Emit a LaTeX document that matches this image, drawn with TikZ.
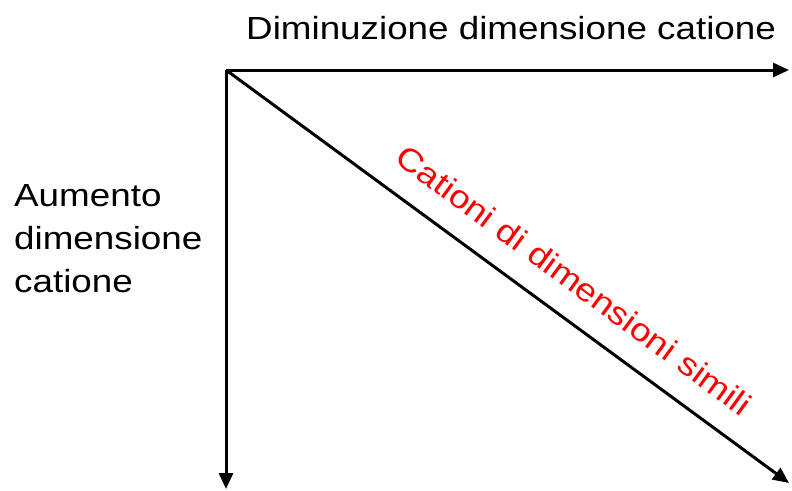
\documentclass[tikz,border=0pt]{standalone}
\usepackage{fontspec}
\setmainfont{Liberation Sans}[FakeStretch = 1.15]
\usetikzlibrary{positioning, arrows.meta}
\tikzset{
  > = {Triangle[length = 16pt, width = 14pt]},
  axis/.style = {->, line width = 3pt},
  label/.style = {inner sep = 0pt, align = left,
    font = \fontsize{32}{43}\selectfont},
  trend/.style = {label, text = red}
}

\begin{document}
\begin{tikzpicture}[x = 1pt, y = -1pt]

\useasboundingbox (0,0) rectangle (792,490);

\coordinate (o) at (226,70);
\coordinate (xend) at (789,70);
\coordinate (yend) at (226,489);
\coordinate (dend) at (789,483);

\node [label, anchor = base west] (xlab) at (246,39) {Diminuzione dimensione catione};
\node [label, anchor = west] (ylab) at (14,239) {Aumento\\dimensione\\catione};

\draw [axis] (o) -- (xend);
\draw [axis] (o) -- (yend);
\draw [axis] (o) -- node [trend, pos = 0.58, sloped, above = 23pt] (dlab)
  {Cationi di dimensioni simili} (dend);

\end{tikzpicture}
\end{document}
